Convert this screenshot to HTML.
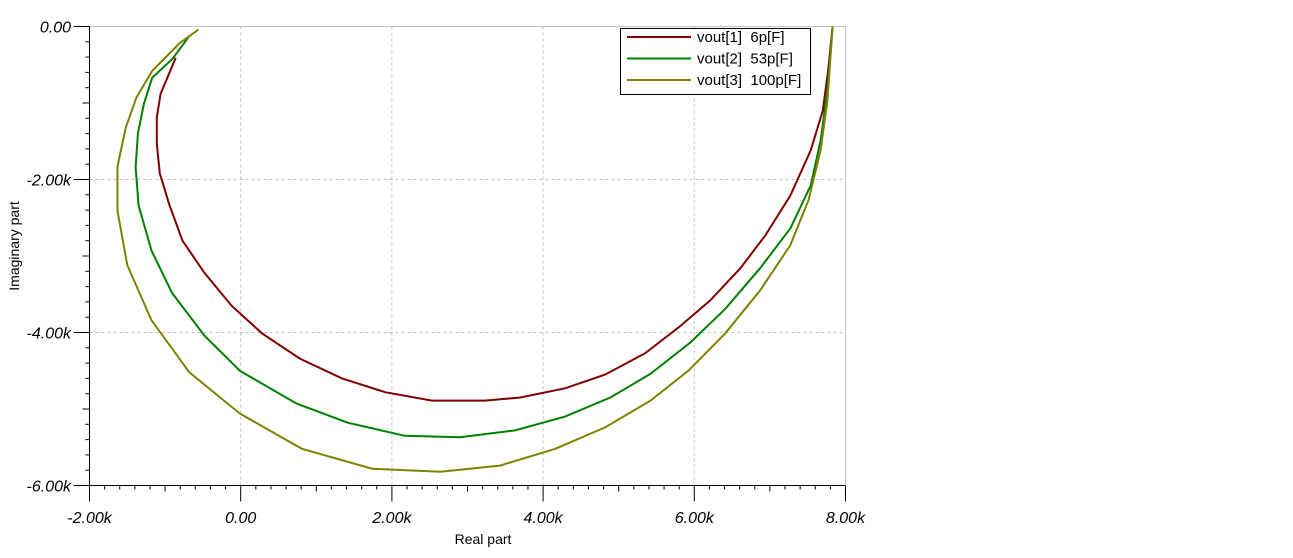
<!DOCTYPE html>
<html><head><meta charset="utf-8"><style>
body{margin:0;background:#fff;}
svg{display:block;font-family:"Liberation Sans",Arial,sans-serif;}
</style></head><body>
<svg id="chart" width="1293" height="558" xmlns="http://www.w3.org/2000/svg"></svg>
<script>
const xTicks=[-2,0,2,4,6,8];
const yTicks=[0,-2,-4,-6];
const xTickLabels=["-2.00k","0.00","2.00k","4.00k","6.00k","8.00k"];
const yTickLabels=["0.00","-2.00k","-4.00k","-6.00k"];
const seriesNames=["vout[1]  6p[F]","vout[2]  53p[F]","vout[3]  100p[F]"];
const s1Re=[-0.86,-1.06,-1.11,-1.11,-1.07,-0.94,-0.77,-0.48,-0.12,0.28,0.78,1.34,1.91,2.53,3.23,3.70,4.29,4.82,5.35,5.81,6.21,6.61,6.94,7.27,7.54,7.70,7.77,7.83];
const s1Im=[-0.41,-0.88,-1.19,-1.53,-1.92,-2.34,-2.80,-3.22,-3.65,-4.01,-4.34,-4.60,-4.78,-4.89,-4.89,-4.85,-4.73,-4.55,-4.27,-3.92,-3.58,-3.16,-2.73,-2.21,-1.62,-1.10,-0.58,0];
const s2Re=[-0.69,-0.90,-1.17,-1.28,-1.36,-1.39,-1.35,-1.18,-0.91,-0.48,-0.01,0.74,1.42,2.17,2.90,3.63,4.29,4.89,5.42,5.95,6.41,6.87,7.27,7.54,7.67,7.76,7.83];
const s2Im=[-0.14,-0.42,-0.67,-1.01,-1.40,-1.84,-2.34,-2.93,-3.48,-4.04,-4.50,-4.93,-5.18,-5.35,-5.37,-5.28,-5.10,-4.85,-4.54,-4.13,-3.69,-3.16,-2.64,-2.08,-1.49,-0.84,0];
const s3Re=[-0.56,-0.81,-1.17,-1.38,-1.52,-1.63,-1.63,-1.50,-1.18,-0.68,-0.01,0.81,1.74,2.64,3.43,4.16,4.82,5.42,5.92,6.41,6.87,7.27,7.51,7.67,7.76,7.83];
const s3Im=[-0.04,-0.22,-0.58,-0.93,-1.32,-1.83,-2.41,-3.12,-3.84,-4.52,-5.06,-5.52,-5.78,-5.82,-5.74,-5.52,-5.24,-4.89,-4.50,-4.01,-3.45,-2.86,-2.27,-1.62,-0.97,0];

const NS="http://www.w3.org/2000/svg";
const svg=document.getElementById('chart');
const X0=89.5,X1=845.5,Y0=26.5,Y1=485.5;
const sx=v=>X0+(v+2)/10*(X1-X0);
const sy=v=>Y0+(-v)/6*(Y1-Y0);
function el(tag,attrs,parent){const e=document.createElementNS(NS,tag);for(const k in attrs)e.setAttribute(k,attrs[k]);(parent||svg).appendChild(e);return e;}
const frame=el('path',{d:`M${X0},${Y0}H${X1}V${Y1}`,fill:'none',stroke:'#c0c0c0'});


xTicks.forEach(v=>{if(v>-2&&v<8){const g=el('line',{x1:sx(v),x2:sx(v),y1:Y0,y2:Y1,stroke:'#c0c0c0','stroke-dasharray':'3,3'});

}});
yTicks.forEach(v=>{if(v<0&&v>-6){const g=el('line',{x1:X0,x2:X1,y1:sy(v),y2:sy(v),stroke:'#c0c0c0','stroke-dasharray':'3,3'});

}});
const ax=el('line',{x1:X0,x2:X1,y1:Y1,y2:Y1,stroke:'#000'});


const ay=el('line',{x1:X0,x2:X0,y1:Y0,y2:Y1,stroke:'#000'});


for(let i=0;i<=50;i++){const v=-2+i*0.2;const len=(i%10==0)?16:(i%5==0?6:4);el('line',{x1:sx(v),x2:sx(v),y1:Y1,y2:Y1+len,stroke:'#000'});}
for(let i=0;i<=30;i++){const v=-i*0.2;const len=(i%10==0)?16:(i%5==0?7:4);el('line',{x1:X0-len,x2:X0,y1:sy(v),y2:sy(v),stroke:'#000'});}
xTicks.forEach((v,i)=>{const t=el('text',{x:sx(v),y:523,'text-anchor':'middle','font-size':'16','font-style':'italic',fill:'#000'});t.textContent=xTickLabels[i];

});
yTicks.forEach((v,i)=>{const t=el('text',{x:71,y:sy(v)+6,'text-anchor':'end','font-size':'16','font-style':'italic',fill:'#000'});t.textContent=yTickLabels[i];

});
const xt=el('text',{x:483,y:544,'text-anchor':'middle','font-size':'14',fill:'#000'});xt.textContent='Real part';


const yt=el('text',{x:0,y:0,transform:'translate(19,246) rotate(-90)','text-anchor':'middle','font-size':'14',fill:'#000'});yt.textContent='Imaginary part';


const series=[[s1Re,s1Im,'#800000'],[s2Re,s2Im,'#008000'],[s3Re,s3Im,'#808000']];
series.forEach((s,k)=>{const d=s[0].map((r,i)=>(i?'L':'M')+sx(r).toFixed(1)+','+sy(s[1][i]).toFixed(1)).join('');
const p=el('path',{d:d,fill:'none',stroke:s[2],'stroke-width':2});

});
const lg=el('g',{});


el('rect',{x:620.5,y:28.5,width:190,height:66,fill:'#fff',stroke:'#000'},lg);
series.forEach((s,k)=>{const y=37+k*21.5;
const e=el('g',{},lg);


el('line',{x1:627,x2:691,y1:y,y2:y,stroke:s[2],'stroke-width':2},e);
const t=el('text',{x:697,y:y+5,'font-size':'15',fill:'#000'},e);t.textContent=seriesNames[k];t.style.whiteSpace='pre';});
</script>
</body></html>
